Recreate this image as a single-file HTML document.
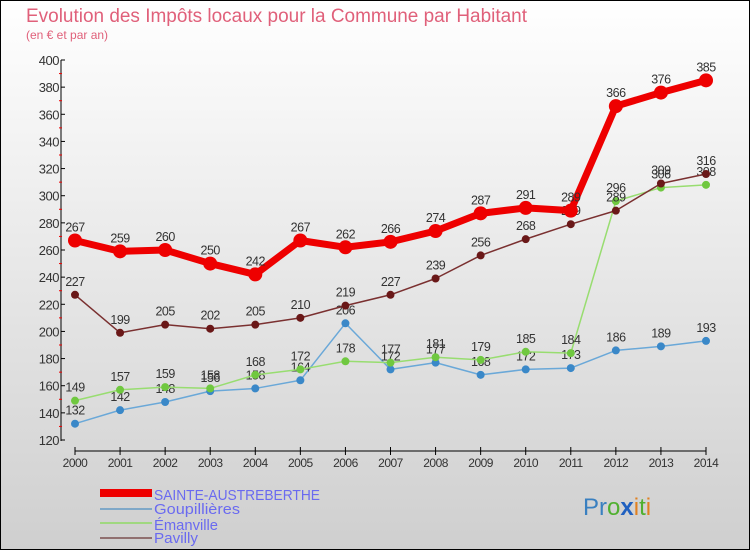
<!DOCTYPE html>
<html><head><meta charset="utf-8"><style>
body{margin:0}
svg{display:block;font-family:"Liberation Sans",sans-serif}
</style></head><body>
<svg width="750" height="550" viewBox="0 0 750 550" xmlns="http://www.w3.org/2000/svg">
<defs><linearGradient id="bg" x1="0" y1="0" x2="0" y2="1"><stop offset="0" stop-color="#ffffff"/><stop offset="1" stop-color="#cfcfcf"/></linearGradient></defs>
<rect x="0.5" y="0.5" width="749" height="549" fill="url(#bg)" stroke="#000"/>
<text x="26" y="22" font-size="19" fill="#e0607a" textLength="501" lengthAdjust="spacingAndGlyphs">Evolution des Impôts locaux pour la Commune par Habitant</text>
<text x="26" y="39" font-size="12" fill="#e0607a">(en € et par an)</text>
<g id="axes"></g>
<g id="series"></g>
<g>
<rect x="100" y="489" width="52" height="8" fill="#e00"/>
<text x="154" y="500" font-size="15" fill="#6a6af0" textLength="166" lengthAdjust="spacingAndGlyphs">SAINTE-AUSTREBERTHE</text>
<rect x="100" y="508" width="52" height="2" fill="#7fa8c8"/>
<text x="154" y="514" font-size="15" fill="#6a6af0" textLength="86" lengthAdjust="spacingAndGlyphs">Goupillières</text>
<rect x="100" y="522" width="52" height="2" fill="#a0d880"/>
<text x="154" y="530" font-size="15" fill="#6a6af0" textLength="64" lengthAdjust="spacingAndGlyphs">Émanville</text>
<rect x="100" y="537" width="52" height="2" fill="#907070"/>
<text x="154" y="543" font-size="15" fill="#6a6af0" textLength="44" lengthAdjust="spacingAndGlyphs">Pavilly</text>
</g>
<text x="583" y="515" font-size="24"><tspan fill="#3a80c0">Pr</tspan><tspan fill="#50b030">o</tspan><tspan fill="#2060c0" font-weight="bold">x</tspan><tspan fill="#e08020">i</tspan><tspan fill="#50b030">t</tspan><tspan fill="#e08020">i</tspan></text>
</svg>
<script>
const years=[2000,2001,2002,2003,2004,2005,2006,2007,2008,2009,2010,2011,2012,2013,2014];
const sainte=[267,259,260,250,242,267,262,266,274,287,291,289,366,376,385];
const goupillieres=[132,142,148,156,158,164,206,172,177,168,172,173,186,189,193];
const emanville=[149,157,159,158,168,172,178,177,181,179,185,184,296,306,308];
const pavilly=[227,199,205,202,205,210,219,227,239,256,268,279,289,309,316];
const yTicks=[120,140,160,180,200,220,240,260,280,300,320,340,360,380,400];
const NS="http://www.w3.org/2000/svg";
function X(i){return 75+i*(706-75)/(years.length-1);}
function Y(v){return 440-(v-120)*(440-60)/280;}
function mk(t,a,p){const e=document.createElementNS(NS,t);for(const k in a)e.setAttribute(k,a[k]);p.appendChild(e);return e;}
const ax=document.getElementById('axes');
mk('line',{x1:61,y1:60,x2:61,y2:441,stroke:'#000'},ax);
yTicks.forEach(v=>{
  mk('line',{x1:61,y1:Y(v),x2:65,y2:Y(v),stroke:'#000'},ax);
  if(v<400) mk('line',{x1:59,y1:Y(v+10),x2:62,y2:Y(v+10),stroke:'#e00'},ax);
  const t=mk('text',{x:59,y:Y(v)+5,'font-size':13,fill:'#333','text-anchor':'end','letter-spacing':'-0.5'},ax);t.textContent=v;
  
  
});
mk('line',{x1:75,y1:451,x2:706,y2:451,stroke:'#000'},ax);
years.forEach((y,i)=>{
  mk('line',{x1:X(i),y1:447,x2:X(i),y2:455,stroke:'#000'},ax);
  const t=mk('text',{x:X(i),y:467,'font-size':12,fill:'#333','text-anchor':'middle','letter-spacing':'-0.5'},ax);t.textContent=y;
  
  
});
const sg=document.getElementById('series');
function draw(data,color,dot,lw,r,name){
  const g=mk('g',{},sg);
  
  
  mk('polyline',{points:data.map((v,i)=>X(i)+','+Y(v)).join(' '),fill:'none',stroke:color,'stroke-width':lw,'stroke-linejoin':'round'},g);
  data.forEach((v,i)=>{
    const c=mk('circle',{cx:X(i),cy:Y(v),r:r,fill:dot},g);
    
    
    const t=mk('text',{x:X(i),y:Y(v)-9,'font-size':12.5,fill:'#333','text-anchor':'middle','letter-spacing':'-0.5'},g);t.textContent=v;
    
    
  });
}
draw(goupillieres,'#6aa8d8','#3a88c8',1.5,4,'series-goupillieres');
draw(emanville,'#98dd70','#70c840',1.5,4,'series-emanville');
draw(pavilly,'#7a3030','#6a1818',1.5,4,'series-pavilly');
draw(sainte,'#ee0000','#ee0000',7,7,'series-sainte');
</script>
</body></html>
